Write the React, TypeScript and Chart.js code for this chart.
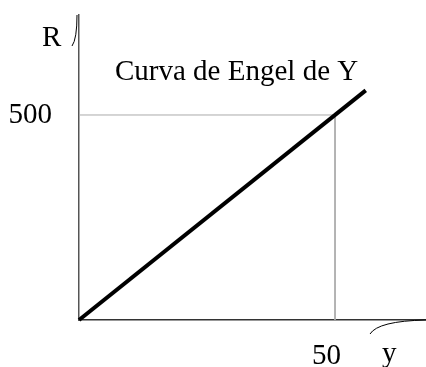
import React, { useEffect, useRef } from "react";
import { Chart, registerables } from "chart.js";

Chart.register(...registerables);

// Data
const engelX = [0, 56];
const engelY = [0, 560];
const guideX = [0, 50, 50];
const guideY = [500, 500, 0];
const xTickValues = [50];
const yTickValues = [500];
const titleText = "Curva de Engel de Y";
const yAxisLabel = "R";
const xAxisLabel = "y";

const FONT = "'Liberation Serif', 'Times New Roman', serif";

const decorPlugin = {
  id: "decor",
  afterDraw(chart: any) {
    const { ctx, chartArea } = chart;
    const L = chartArea.left;
    const T = chartArea.top;
    const B = chartArea.bottom;
    const R = chartArea.right;
    ctx.save();
    ctx.fillStyle = "#000";
    ctx.font = `29px ${FONT}`;
    ctx.textBaseline = "alphabetic";
    ctx.textAlign = "left";
    ctx.fillText(titleText, L + 36, T + 65);
    ctx.fillText(yAxisLabel, L - 37, T + 31);
    ctx.fillText(xAxisLabel, R - 44, B + 42);
    // axis break curves
    ctx.strokeStyle = "#000";
    ctx.lineWidth = 1;
    ctx.beginPath();
    ctx.moveTo(L - 7, T + 31);
    ctx.quadraticCurveTo(L - 2, T + 24, L - 2, T);
    ctx.stroke();
    ctx.beginPath();
    ctx.moveTo(R - 56, B + 14);
    ctx.quadraticCurveTo(R - 48, B + 1, R, B);
    ctx.stroke();
    ctx.restore();
  },
};

export default function App() {
  const ref = useRef<HTMLCanvasElement>(null);
  useEffect(() => {
    if (!ref.current) return;
    const chart = new Chart(ref.current, {
      type: "line",
      data: {
        datasets: [
          {
            data: engelX.map((x, i) => ({ x, y: engelY[i] })),
            borderColor: "#000",
            borderWidth: 4,
            pointRadius: 0,
            clip: false as any,
            order: 0,
          },
          {
            data: guideX.map((x, i) => ({ x, y: guideY[i] })),
            borderColor: "#aaa",
            borderWidth: 1,
            pointRadius: 0,
            order: 1,
          },
        ],
      },
      options: {
        animation: false,
        responsive: false,
        events: [],
        layout: { padding: { top: 15, left: 0, right: 0, bottom: 0 } },
        plugins: { legend: { display: false }, tooltip: { enabled: false }, title: { display: false } },
        scales: {
          x: {
            type: "linear",
            min: 0,
            max: 67.77,
            grid: { display: false, drawTicks: false },
            border: { display: true, color: "#333", width: 1.5 },
            afterBuildTicks: (s: any) => {
              s.ticks = xTickValues.map((v) => ({ value: v }));
            },
            afterFit: (s: any) => {
              s.height = 47;
              s.paddingLeft = 0;
              s.paddingRight = 0;
              s.paddingTop = 0;
              s.paddingBottom = 0;
            },
            ticks: {
              color: "#000",
              font: { family: FONT, size: 29 },
              padding: 19,
              labelOffset: -8.5,
              maxRotation: 0,
              autoSkip: false,
            },
          },
          y: {
            type: "linear",
            min: 0,
            max: 743.9,
            grid: { display: false, drawTicks: false },
            border: { display: true, color: "#555", width: 1.5 },
            afterBuildTicks: (s: any) => {
              s.ticks = yTickValues.map((v) => ({ value: v }));
            },
            afterFit: (s: any) => {
              s.width = 79;
              s.paddingLeft = 0;
              s.paddingRight = 0;
              s.paddingTop = 0;
              s.paddingBottom = 0;
            },
            ticks: {
              color: "#000",
              font: { family: FONT, size: 29 },
              padding: 27,
              autoSkip: false,
            },
          },
        },
      },
      plugins: [decorPlugin],
    });
    return () => chart.destroy();
  }, []);
  return (
    <div style={{ position: "fixed", left: 0, top: 0, width: 426, height: 367, background: "#fff" }}>
      <canvas ref={ref} width={426} height={367} />
    </div>
  );
}
